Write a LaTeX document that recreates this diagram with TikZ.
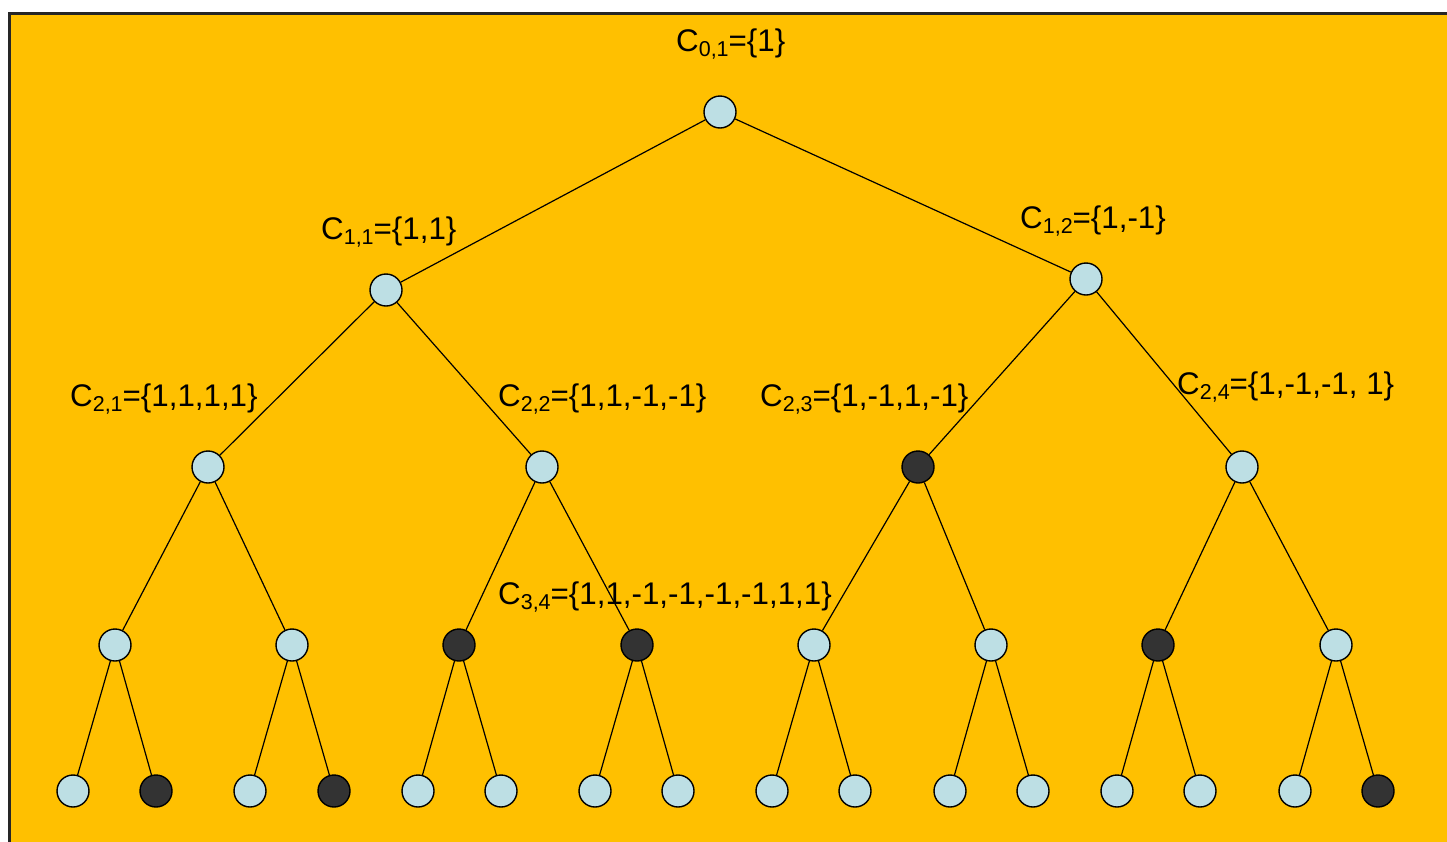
\documentclass[tikz,border=0pt]{standalone}
\usepackage{fontspec}
\setmainfont{Liberation Sans}
\definecolor{bgyellow}{HTML}{FFC000}
\definecolor{nodeblue}{HTML}{BDDFE4}
\definecolor{nodedark}{HTML}{333333}
\newcommand{\lbl}[2]{C\raisebox{-0.32ex}{\fontsize{21.5}{22}\selectfont #1}=\{#2\}}
\begin{document}
\begin{tikzpicture}[x=1pt,y=-1pt,
  lt/.style={circle,draw=black,line width=1.4pt,fill=nodeblue,minimum size=32pt,inner sep=0pt},
  dk/.style={circle,draw=black,line width=1.4pt,fill=nodedark,minimum size=32pt,inner sep=0pt},
  edge/.style={draw=black,line width=1.2pt},
  lab/.style={anchor=base west,inner sep=0pt,font=\fontsize{31.3}{36}\selectfont}]
\useasboundingbox (0,0) rectangle (1447,841);
\clip (0,0) rectangle (1447,841);
\draw[fill=bgyellow,draw=black!85,line width=3pt] (9.5,13.5) rectangle (1470,870);
% level 0
\node[lt] (r) at (720,112) {};
% level 1
\node[lt] (a) at (386,290) {};
\node[lt] (b) at (1086,279) {};
% level 2
\node[lt] (aa) at (208,467) {};
\node[lt] (ab) at (542,467) {};
\node[dk] (ba) at (918,467) {};
\node[lt] (bb) at (1242,467) {};
% level 3
\node[lt] (aaa) at (115,645) {};
\node[lt] (aab) at (292,645) {};
\node[dk] (aba) at (459,645) {};
\node[dk] (abb) at (637,645) {};
\node[lt] (baa) at (814,645) {};
\node[lt] (bab) at (991,645) {};
\node[dk] (bba) at (1158,645) {};
\node[lt] (bbb) at (1336,645) {};
% level 4
\node[lt] (l1) at (73,791) {};
\node[dk] (l2) at (156,791) {};
\node[lt] (l3) at (250,791) {};
\node[dk] (l4) at (334,791) {};
\node[lt] (l5) at (418,791) {};
\node[lt] (l6) at (501,791) {};
\node[lt] (l7) at (595,791) {};
\node[lt] (l8) at (678,791) {};
\node[lt] (l9) at (772,791) {};
\node[lt] (l10) at (855,791) {};
\node[lt] (l11) at (950,791) {};
\node[lt] (l12) at (1033,791) {};
\node[lt] (l13) at (1117,791) {};
\node[lt] (l14) at (1200,791) {};
\node[lt] (l15) at (1295,791) {};
\node[dk] (l16) at (1378,791) {};
% edges
\foreach \p/\c in {r/a,r/b,a/aa,a/ab,b/ba,b/bb,aa/aaa,aa/aab,ab/aba,ab/abb,ba/baa,ba/bab,bb/bba,bb/bbb,
  aaa/l1,aaa/l2,aab/l3,aab/l4,aba/l5,aba/l6,abb/l7,abb/l8,baa/l9,baa/l10,bab/l11,bab/l12,bba/l13,bba/l14,bbb/l15,bbb/l16}
  \draw[edge] (\p) -- (\c);
% labels
\node[lab] (t01) at (676,51) {\lbl{0,1}{1}};
\node[lab] (t11) at (321,239) {\lbl{1,1}{1,1}};
\node[lab] (t12) at (1020,228) {\lbl{1,2}{1,-1}};
\node[lab] (t21) at (70,406) {\lbl{2,1}{1,1,1,1}};
\node[lab] (t22) at (498,406) {\lbl{2,2}{1,1,-1,-1}};
\node[lab] (t23) at (760,406) {\lbl{2,3}{1,-1,1,-1}};
\node[lab] (t24) at (1177,394) {\lbl{2,4}{1,-1,-1, 1}};
\node[lab] (t34) at (498,604) {\lbl{3,4}{1,1,-1,-1,-1,-1,1,1}};
\end{tikzpicture}
\end{document}
